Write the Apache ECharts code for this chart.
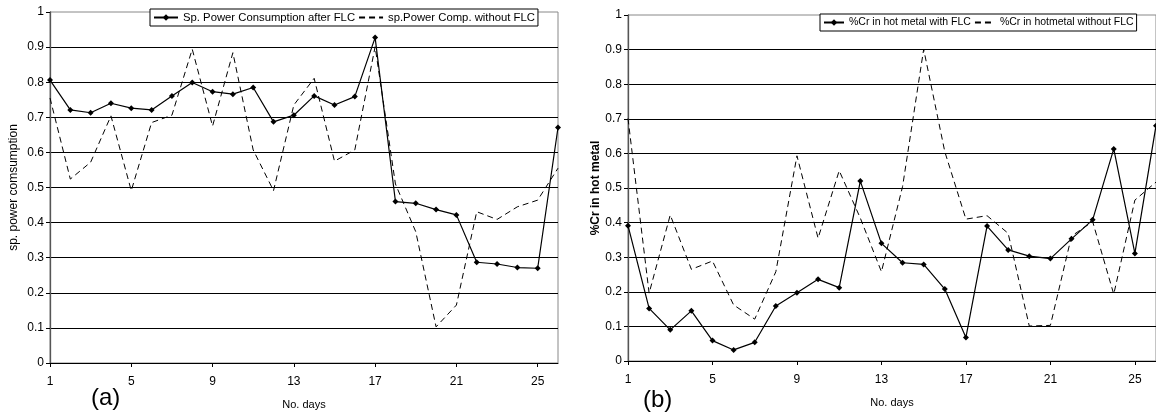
<!DOCTYPE html>
<html>
<head>
<meta charset="utf-8">
<script src="https://cdn.jsdelivr.net/npm/echarts@6/dist/echarts.min.js"></script>
<style>
html,body{margin:0;padding:0;background:#fff;}
#c{width:1156px;height:416px;}
</style>
</head>
<body>
<div id="c"></div>
<script>
var days = ['1','2','3','4','5','6','7','8','9','10','11','12','13','14','15','16','17','18','19','20','21','22','23','24','25','26'];
var powerAfterFLC = [0.806,0.721,0.713,0.740,0.726,0.721,0.761,0.799,0.773,0.766,0.785,0.687,0.706,0.761,0.735,0.759,0.927,0.460,0.455,0.437,0.422,0.287,0.282,0.272,0.270,0.671];
var powerWithoutFLC = [0.755,0.524,0.572,0.704,0.491,0.685,0.706,0.894,0.675,0.884,0.607,0.491,0.735,0.811,0.575,0.607,0.901,0.510,0.374,0.103,0.165,0.431,0.409,0.445,0.464,0.555];
var crWithFLC = [0.391,0.152,0.090,0.145,0.059,0.032,0.054,0.159,0.197,0.236,0.212,0.520,0.340,0.284,0.279,0.208,0.068,0.390,0.321,0.303,0.296,0.353,0.408,0.613,0.311,0.680];
var crWithoutFLC = [0.701,0.196,0.422,0.265,0.289,0.162,0.121,0.258,0.593,0.355,0.550,0.413,0.258,0.504,0.901,0.605,0.410,0.420,0.369,0.101,0.103,0.361,0.403,0.193,0.465,0.517];
var seriesNames = ['Sp. Power Consumption after FLC','sp.Power Comp. without FLC','%Cr in hot metal with FLC','%Cr in hotmetal without FLC'];
var yTitles = ['sp. power comsumption','%Cr in hot metal'];
var xTitle = 'No. days';
var panelLabels = ['(a)','(b)'];

var FONT = 'Liberation Sans, Arial, sans-serif';
var chart = echarts.init(document.getElementById('c'), null, {renderer:'canvas'});

function xAx(gi){
  return {
    type:'category', gridIndex:gi, data:days, boundaryGap:false,
    name:xTitle, nameLocation:'middle', nameGap:36,
    nameTextStyle:{fontSize:11, color:'#000', fontFamily:FONT},
    axisLine:{lineStyle:{color:'#000', width:1}},
    axisTick:{show:true, interval:3, length:4, lineStyle:{color:'#000'}},
    axisLabel:{interval:3, fontSize:12, color:'#000', margin:13, fontFamily:FONT},
    splitLine:{show:false}
  };
}
function yAx(gi, title, bold, gap){
  return {
    type:'value', gridIndex:gi, min:0, max:1, interval:0.1,
    name:title, nameLocation:'middle', nameRotate:90, nameGap:gap,
    nameTextStyle:{fontSize:12, color:'#000', fontFamily:FONT, fontWeight: bold?'bold':'normal'},
    axisLine:{show:true, lineStyle:{color:'#555', width:1.3}},
    axisTick:{show:true, length:4, lineStyle:{color:'#000'}},
    axisLabel:{fontSize:12, color:'#000', margin:6, fontFamily:FONT},
    splitLine:{show:true, showMinLine:false, showMaxLine:false, lineStyle:{color:'#000', width:1}}
  };
}
function solid(name, xi, data){
  return {name:name, type:'line', xAxisIndex:xi, yAxisIndex:xi, data:data,
    symbol:'diamond', symbolSize:6, showSymbol:true,
    itemStyle:{color:'#000'}, lineStyle:{color:'#000', width:1.2},
    animation:false, z:3};
}
function dashed(name, xi, data){
  return {name:name, type:'line', xAxisIndex:xi, yAxisIndex:xi, data:data,
    symbol:'none', itemStyle:{color:'#000'}, lineStyle:{color:'#000', width:1, type:[6,4]},
    animation:false, z:2};
}
function legendItems(a, b){
  return [{name:a}, {name:b, itemStyle:{opacity:0}}];
}

chart.setOption({
  animation:false,
  backgroundColor:'#fff',
  textStyle:{fontFamily:FONT},
  grid:[
    {left:50, top:12, width:508, height:351, show:true, borderColor:'#888', borderWidth:1, backgroundColor:'#fff'},
    {left:628, top:15, width:531.25, height:346, show:true, borderColor:'#888', borderWidth:1, backgroundColor:'#fff'}
  ],
  xAxis:[xAx(0), xAx(1)],
  yAxis:[yAx(0, yTitles[0], false, 30), yAx(1, yTitles[1], true, 25)],
  legend:[
    {data:legendItems(seriesNames[0], seriesNames[1]), left:150, top:9, orient:'horizontal',
     itemWidth:24, itemHeight:8, itemGap:3, padding:[3,3,3,3],
     borderColor:'#000', borderWidth:1, backgroundColor:'#fff',
     textStyle:{fontSize:11.3, color:'#000', fontFamily:FONT}},
    {data:legendItems(seriesNames[2], seriesNames[3]), left:820, top:14, orient:'horizontal',
     itemWidth:20, itemHeight:8, itemGap:3, padding:[3,3,3,3],
     borderColor:'#000', borderWidth:1, backgroundColor:'#fff',
     textStyle:{fontSize:10.5, color:'#000', fontFamily:FONT}}
  ],
  graphic:[
    {type:'text', left:91, top:386, style:{text:panelLabels[0], fontSize:24, fill:'#000', fontFamily:FONT}},
    {type:'text', left:643, top:388, style:{text:panelLabels[1], fontSize:24, fill:'#000', fontFamily:FONT}}
  ],
  series:[
    solid(seriesNames[0], 0, powerAfterFLC),
    dashed(seriesNames[1], 0, powerWithoutFLC),
    solid(seriesNames[2], 1, crWithFLC),
    dashed(seriesNames[3], 1, crWithoutFLC)
  ]
});
</script>
</body>
</html>
